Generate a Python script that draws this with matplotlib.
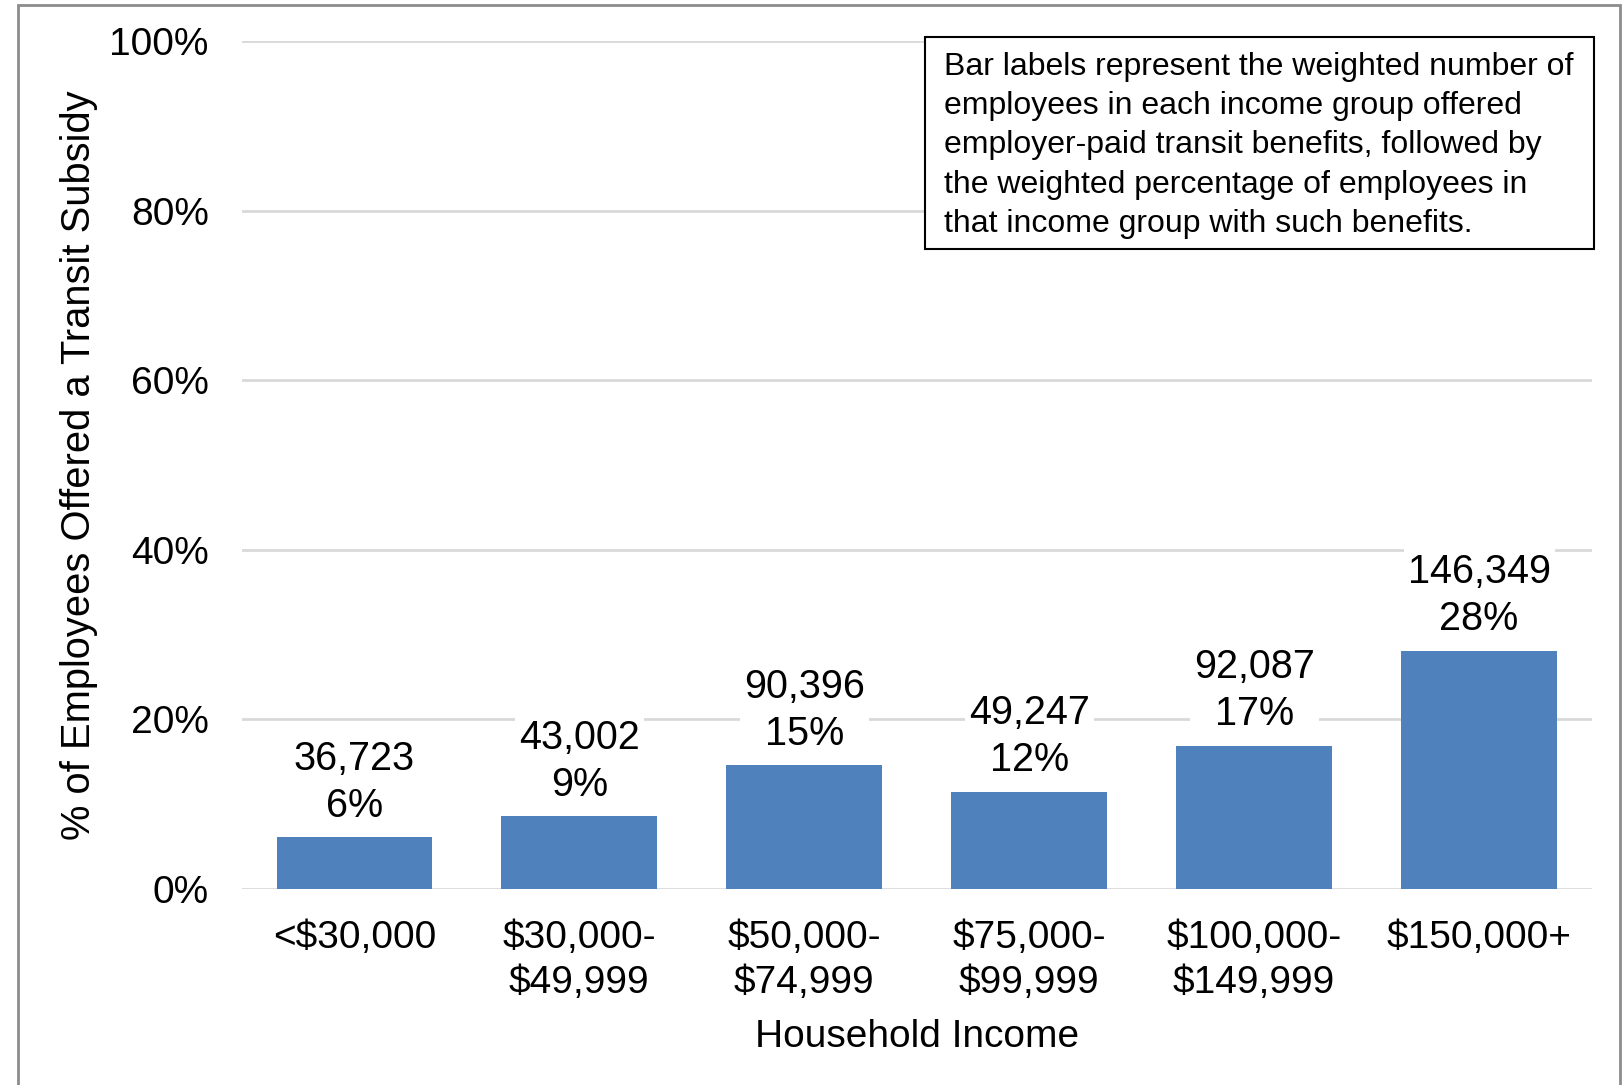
import matplotlib.pyplot as plt
from matplotlib.patches import Rectangle

# Data
income_groups = ["<$30,000", "$30,000-\n$49,999", "$50,000-\n$74,999",
                 "$75,000-\n$99,999", "$100,000-\n$149,999", "$150,000+"]
employees_offered = [36723, 43002, 90396, 49247, 92087, 146349]
pct_offered = [6.1, 8.6, 14.6, 11.5, 16.9, 28.1]
y_ticks = [0, 20, 40, 60, 80, 100]

note = ("Bar labels represent the weighted number of\n"
        "employees in each income group offered\n"
        "employer-paid transit benefits, followed by\n"
        "the weighted percentage of employees in\n"
        "that income group with such benefits.")

plt.rcParams['font.family'] = ['Liberation Sans', 'DejaVu Sans']

fig = plt.figure(figsize=(16.24, 10.85), dpi=100)
ax = fig.add_axes([0.149, 0.1806, 0.831, 0.7816])

# outer frame
fig.patches.append(Rectangle((18 / 1624, -0.05), (1620 - 18) / 1624, 1.05 - 5 / 1085,
                             transform=fig.transFigure, fill=False,
                             edgecolor='#8c8c8c', linewidth=2))

x = range(len(income_groups))
bars = ax.bar(x, pct_offered, width=0.693, color='#4f81bd', zorder=2)

for bar, n, p in zip(bars, employees_offered, pct_offered):
    ax.annotate(f"{n:,}\n{p:.0f}%", (bar.get_x() + bar.get_width() / 2, p),
                xytext=(0, 9), textcoords='offset points', ha='center', va='bottom',
                fontsize=28.5, linespacing=1.3, zorder=3,
                bbox=dict(boxstyle='square,pad=0.1', facecolor='white', edgecolor='none'))

ax.set_xlim(-0.5, len(income_groups) - 0.5)
ax.set_ylim(0, 100)
ax.set_yticks(y_ticks)
ax.set_yticklabels([f"{t}%" for t in y_ticks])
ax.set_xticks(list(x))
ax.set_xticklabels(income_groups, linespacing=1.32)
ax.tick_params(axis='both', length=0, labelsize=28)
ax.tick_params(axis='y', pad=24)
ax.tick_params(axis='x', pad=22)
ax.grid(axis='y', color='#d9d9d9', linewidth=2, zorder=0)
for s in ax.spines.values():
    s.set_visible(False)

ax.set_xlabel("Household Income", fontsize=28, labelpad=13)
ax.set_ylabel("% of Employees Offered a Transit Subsidy", fontsize=28.7, labelpad=8)

# note box
fig.patches.append(Rectangle((925 / 1624, 1 - 249 / 1085), (1594 - 925) / 1624, 212 / 1085,
                             transform=fig.transFigure, facecolor='white',
                             edgecolor='black', linewidth=1.5, zorder=5))
fig.text(944 / 1624, 1 - 52 / 1085, note, ha='left', va='top', fontsize=23,
         linespacing=1.4, zorder=6)

plt.savefig('out.png')
